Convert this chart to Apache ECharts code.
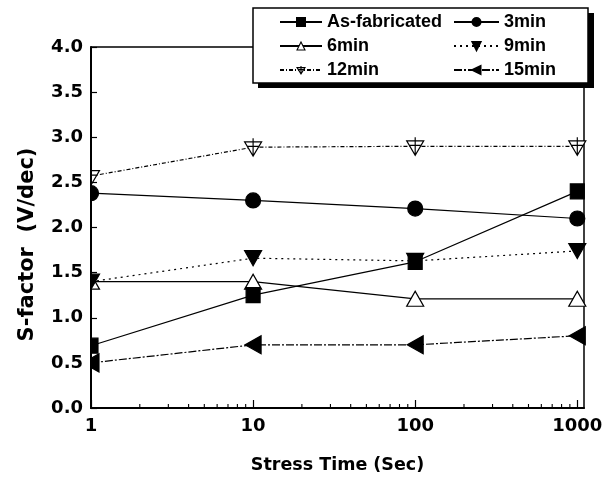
<!DOCTYPE html>
<html>
<head>
<meta charset="utf-8">
<script src="https://cdn.jsdelivr.net/npm/echarts@6/dist/echarts.min.js"></script>
<style>
html,body{margin:0;padding:0;background:#fff;}
#c{width:613px;height:479px;}
</style>
</head>
<body>
<div id="c"></div>
<script>
// ---- data ----
const stressTime = [1, 10, 100, 1000];
const asFabricated = [0.69, 1.25, 1.62, 2.40];
const min3 = [2.38, 2.30, 2.21, 2.10];
const min6 = [1.40, 1.40, 1.21, 1.21];
const min9 = [1.40, 1.66, 1.63, 1.74];
const min12 = [2.57, 2.89, 2.90, 2.90];
const min15 = [0.50, 0.70, 0.70, 0.80];
const xMinorTicks = [2,3,4,5,6,7,8,9,20,30,40,50,60,70,80,90,200,300,400,500,600,700,800,900];

const pair = arr => stressTime.map((x, i) => [x, arr[i]]);

const SYM_DOWN = 'path://M0,0 L10,0 L5,9 Z';
const SYM_LEFT = 'path://M0,5 L9,0 L9,10 Z';
const SYM_UPX = 'path://M1,4 L19,4 L10,20 Z M10,0 L10,20 M4,9 L16,9';

const black = '#000';
function mk(name, data, symbol, size, filled, lineType, z) {
  return {
    name, type: 'line', data: pair(data),
    symbol, symbolSize: size,
    clip: false,
    itemStyle: { color: filled ? black : '#fff', borderColor: black, borderWidth: 1.2 },
    lineStyle: { color: black, width: 1.2, type: lineType },
    emphasis: { disabled: true },
    zlevel: 0,
    z: z || 2
  };
}

const chart = echarts.init(document.getElementById('c'), null, { renderer: 'canvas' });
const axisFont = { fontFamily: 'DejaVu Sans', fontWeight: 'bold', fontSize: 18, color: black };
const legendText = { fontFamily: 'Liberation Sans', fontWeight: 'bold', fontSize: 18, lineHeight: 20, color: black };
const hollow = { color: '#fff', borderColor: black, borderWidth: 1.1 };
const option = {
  animation: false,
  backgroundColor: '#fff',
  grid: { left: 91, right: 29, top: 47, bottom: 71, show: true, borderColor: black, borderWidth: 1.5, backgroundColor: 'transparent' },
  xAxis: {
    type: 'log', logBase: 10, min: 1, max: 1100, zlevel: 1, z: 10,
    name: 'Stress Time (Sec)', nameLocation: 'middle', nameGap: 48,
    nameTextStyle: { fontFamily: 'DejaVu Sans', fontWeight: 'bold', fontSize: 17.5, color: black },
    axisLine: { lineStyle: { color: black, width: 2 } },
    axisTick: { inside: true, length: 8, lineStyle: { color: black, width: 1.2 } },
    axisLabel: Object.assign({ margin: 9, showMaxLabel: false,
      formatter: v => { const l = Math.log10(v); return Math.abs(l - Math.round(l)) < 1e-6 ? String(Math.round(v)) : ''; } }, axisFont),
    splitLine: { show: false }
  },
  yAxis: {
    type: 'value', min: 0, max: 4, interval: 0.5, zlevel: 1, z: 10,
    name: 'S-factor  (V/dec)', nameLocation: 'middle', nameGap: 53, nameRotate: 90,
    nameTextStyle: { fontFamily: 'DejaVu Sans', fontWeight: 'bold', fontSize: 21, color: black, padding: [0, 34, 0, 0] },
    axisLine: { lineStyle: { color: black, width: 2 } },
    axisTick: { inside: true, length: 6, lineStyle: { color: black, width: 1.2 } },
    axisLabel: Object.assign({ margin: 8, formatter: v => v.toFixed(1) }, axisFont),
    splitLine: { show: false }
  },
  legend: [
    { data: ['As-fabricated', { name: '6min', itemStyle: hollow }, { name: '12min', itemStyle: hollow }],
      orient: 'vertical', left: 279, top: 12, padding: 0, zlevel: 1, z: 10,
      itemWidth: 42, itemHeight: 10, itemGap: 4, selectedMode: false, textStyle: legendText },
    { data: ['3min', '9min', '15min'], orient: 'vertical', left: 453, top: 12, padding: 0, zlevel: 1, z: 10,
      itemWidth: 45, itemHeight: 10, itemGap: 4, selectedMode: false, textStyle: legendText }
  ],
  series: [
    mk('3min', min3, 'circle', 15, true, 'solid'),
    mk('6min', min6, 'triangle', [17, 15], false, 'solid'),
    mk('9min', min9, SYM_DOWN, [17, 15], true, [2, 4]),
    mk('12min', min12, SYM_UPX, [17, 18], false, [4, 2, 1, 2]),
    mk('15min', min15, SYM_LEFT, [16, 18], true, [8, 2, 2, 2]),
    mk('As-fabricated', asFabricated, 'rect', [14, 15], true, 'solid', 3)
  ]
};
chart.setOption(option);

// minor ticks through the library's own log scale
const gridBottom = 479 - 71;
const els = [];
xMinorTicks.forEach(v => {
  const px = chart.convertToPixel({ xAxisIndex: 0 }, v);
  els.push({ type: 'line', zlevel: 1, z: 5, shape: { x1: px, y1: gridBottom, x2: px, y2: gridBottom - 4 }, style: { stroke: black, lineWidth: 1.1 } });
});
// white cover left of the axis (markers clipped at the plot edge)
els.push({ type: 'rect', zlevel: 1, z: 5, shape: { x: 30, y: 30, width: 60.5, height: 395 }, style: { fill: '#fff' } });
// legend box with shadow
els.push({ type: 'rect', zlevel: 1, z: 5, shape: { x: 258, y: 13, width: 336, height: 75 }, style: { fill: black } });
els.push({ type: 'rect', zlevel: 1, z: 6, shape: { x: 253, y: 8, width: 335, height: 75 }, style: { fill: '#fff', stroke: black, lineWidth: 1.5 } });
chart.setOption({ graphic: { zlevel: 1, z: 5, elements: els } });
</script>
</body>
</html>
